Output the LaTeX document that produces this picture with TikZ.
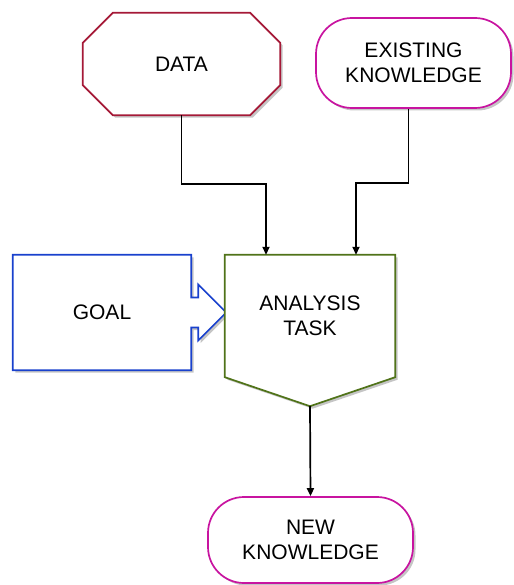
\documentclass[tikz,border=0pt]{standalone}
\usepackage{fontspec}
\setmainfont{Liberation Sans}
\usetikzlibrary{shadows,arrows.meta}

\definecolor{datared}{RGB}{165,25,55}
\definecolor{knowpink}{RGB}{200,20,160}
\definecolor{goalblue}{RGB}{25,65,205}
\definecolor{taskgreen}{RGB}{80,115,25}

\tikzset{
  shade3/.style={drop shadow={shadow xshift=2.5pt, shadow yshift=-2.5pt, fill=black!45}},
  outline/.style={line width=1.7pt, fill=white, shade3, line join=miter},
  lbl/.style={align=center, inner sep=0pt,
    font=\fontsize{21}{25}\selectfont},
  conn/.style={line width=1.7pt, black, -{Triangle[length=8pt,width=7pt]}}
}

\begin{document}
\begin{tikzpicture}[x=1pt,y=-1pt]
\useasboundingbox (0,0) rectangle (513,585);

% label holders sized to each outline
\node[lbl, minimum width=197pt, minimum height=102pt] (data) at (181.5,64) {};
\node[lbl, minimum width=178pt, minimum height=115pt] (goal) at (102,312.5) {};
\node[lbl, minimum width=170pt, minimum height=122pt] (ana) at (310,316) {};
\coordinate (anatip) at ([yshift=-29pt]ana.south);

% DATA: octagon
\draw[outline, draw=datared]
  ([xshift=30pt]data.north west) -- ([xshift=-30pt]data.north east)
  -- ([yshift=-30pt]data.north east) -- ([yshift=30pt]data.south east)
  -- ([xshift=-30pt]data.south east) -- ([xshift=30pt]data.south west)
  -- ([yshift=30pt]data.south west) -- ([yshift=-30pt]data.north west) -- cycle;
\node[lbl] at (data) {DATA};

% EXISTING KNOWLEDGE: rounded terminal
\node[lbl, outline, draw=knowpink, rounded corners=36pt,
      minimum width=195pt, minimum height=90pt] (exist) at (413.5,63)
  {EXISTING\\KNOWLEDGE};

% GOAL: box with an arrow pointing right
\draw[outline, draw=goalblue]
  (goal.north west) -- (goal.north east) -- ([yshift=15pt]goal.east)
  -- ([xshift=7pt,yshift=15pt]goal.east) -- ([xshift=7pt,yshift=28pt]goal.east)
  -- ([xshift=35pt]goal.east)
  -- ([xshift=7pt,yshift=-28pt]goal.east) -- ([xshift=7pt,yshift=-15pt]goal.east)
  -- ([yshift=-15pt]goal.east) -- (goal.south east) -- (goal.south west) -- cycle;
\node[lbl] at (goal) {GOAL};

% ANALYSIS TASK: pentagon pointing down
\draw[outline, draw=taskgreen]
  (ana.north west) -- (ana.north east) -- (ana.south east) -- (anatip)
  -- (ana.south west) -- cycle;
\node[lbl] at (ana) {ANALYSIS\\TASK};

% NEW KNOWLEDGE: rounded terminal
\node[lbl, outline, draw=knowpink, rounded corners=36pt,
      minimum width=205pt, minimum height=86pt] (new) at (310.5,540)
  {NEW\\KNOWLEDGE};

% connectors
\draw[conn] (data.south) -- ++(0,69) -| ([xshift=-44pt]ana.north);
\draw[conn] ([xshift=-5pt]exist.south) -- ++(0,74) -| ([xshift=46pt]ana.north);
\draw[conn] (anatip) -- (new.north);
\end{tikzpicture}
\end{document}
